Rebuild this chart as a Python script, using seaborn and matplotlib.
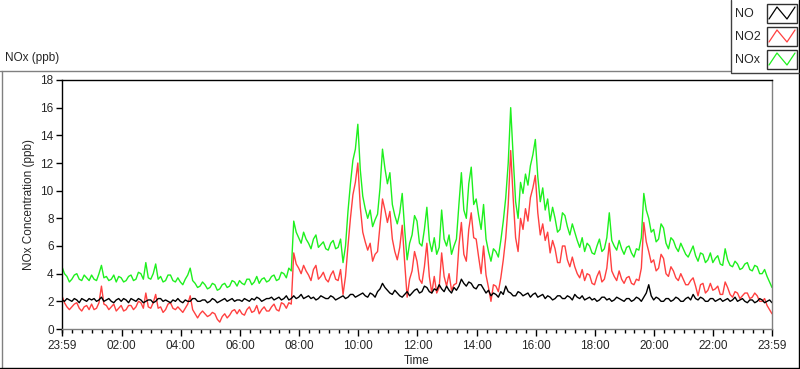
import numpy as np
import pandas as pd
import matplotlib
matplotlib.use("Agg")
import matplotlib.pyplot as plt
import seaborn as sns
from matplotlib.lines import Line2D
from matplotlib.patches import Rectangle
from matplotlib.ticker import FixedLocator

# ---------------- data (5-minute samples from 23:59 to 23:59, one row per hour) ----------------
minutes = list(range(0, 1441, 5))

nox = [4.5, 4.0, 3.8, 3.4, 3.6, 3.9, 4.0, 3.6, 3.5, 3.9, 3.7, 3.5,
       3.9, 3.6, 3.5, 4.0, 4.6, 3.7, 3.8, 3.5, 3.6, 3.9, 3.4, 3.8,
       3.7, 3.4, 3.5, 3.8, 3.9, 3.5, 3.6, 4.1, 4.0, 3.6, 4.8, 3.7,
       3.6, 4.0, 4.7, 3.6, 3.8, 3.4, 3.5, 3.9, 3.9, 3.5, 3.4, 3.7,
       3.4, 3.2, 3.6, 3.9, 4.4, 3.5, 3.3, 3.0, 3.1, 3.4, 3.2, 2.9,
       3.0, 3.3, 3.2, 2.8, 2.9, 3.2, 3.3, 3.0, 3.1, 3.5, 3.4, 3.1,
       3.5, 3.3, 3.2, 3.6, 3.6, 3.2, 3.4, 3.8, 3.3, 3.6, 3.7, 3.4,
       3.5, 3.8, 3.9, 3.5, 3.6, 4.1, 4.0, 3.7, 4.4, 4.2, 7.8, 7.0,
       6.6, 6.2, 7.0, 6.5, 6.2, 5.8, 6.5, 6.8, 5.9, 6.1, 6.3, 5.8,
       5.7, 6.2, 6.4, 5.8, 5.9, 6.5, 4.8, 6.0, 8.5, 10.5, 12.2, 13.0,
       14.8, 11.5, 9.6, 8.7, 8.0, 8.6, 7.4, 7.9, 8.3, 10.2, 13.0, 11.6,
       10.5, 11.3, 9.0, 8.2, 7.6, 8.4, 9.8, 7.2, 5.0, 6.2, 6.8, 8.2,
       7.8, 6.2, 6.0, 7.2, 8.8, 6.4, 5.6, 6.6, 5.4, 5.9, 8.6, 6.5,
       6.0, 6.8, 5.4, 6.0, 6.5, 9.0, 11.3, 8.6, 8.0, 10.5, 11.7, 9.0,
       9.4, 8.2, 7.2, 9.0, 6.5, 5.6, 4.9, 5.8, 5.6, 5.2, 6.4, 7.8,
       9.5, 12.0, 16.0, 12.5, 9.2, 8.0, 10.6, 9.8, 11.2, 10.4, 11.8, 12.6,
       13.7, 11.0, 9.2, 10.2, 8.6, 9.4, 7.8, 8.8, 8.0, 7.0, 7.2, 8.4,
       8.2, 7.4, 6.8, 7.6, 7.0, 6.4, 5.9, 6.6, 5.6, 6.2, 6.0, 5.5,
       5.4, 6.0, 6.5, 5.6, 5.8, 6.6, 8.4, 6.4, 6.0, 5.7, 6.4, 5.8,
       5.4, 5.9, 6.0, 5.5, 5.2, 5.8, 5.7, 6.6, 9.8, 8.6, 8.0, 7.0,
       7.2, 6.3, 6.5, 7.6, 7.3, 6.2, 5.8, 6.6, 6.4, 5.9, 5.6, 6.2,
       5.8, 5.4, 5.2, 5.6, 6.0, 5.3, 4.9, 5.5, 5.4, 4.8, 5.0, 5.5,
       4.8, 5.1, 5.3, 4.7, 4.6, 5.8, 5.0, 4.6, 4.5, 4.9, 4.7, 4.3,
       4.4, 4.7, 4.8, 4.3, 4.2, 4.6, 4.5, 4.0, 4.0, 4.3, 3.8, 3.4,
       3.0]

no2 = [2.4, 1.9, 1.6, 1.4, 1.6, 1.8, 1.9, 1.5, 1.3, 1.6, 1.7, 1.4,
       1.8, 1.4, 1.5, 1.9, 3.1, 1.8, 1.7, 1.4, 1.6, 1.8, 1.3, 1.5,
       1.7, 1.3, 1.4, 1.7, 1.7, 1.4, 1.6, 2.0, 1.9, 1.5, 2.6, 1.6,
       1.5, 1.9, 2.5, 1.5, 1.6, 1.2, 1.4, 1.8, 1.9, 1.5, 1.4, 1.6,
       1.4, 1.2, 1.5, 1.8, 2.4, 1.4, 1.1, 0.8, 1.1, 1.3, 1.1, 0.9,
       1.0, 1.2, 1.1, 0.7, 0.5, 0.9, 1.1, 0.8, 1.0, 1.3, 1.4, 1.1,
       1.4, 1.1, 1.0, 1.4, 1.6, 1.2, 1.3, 1.7, 1.1, 1.4, 1.6, 1.3,
       1.3, 1.6, 1.8, 1.4, 1.3, 1.9, 1.8, 1.5, 1.9, 1.8, 5.5, 4.7,
       4.4, 4.0, 4.6, 4.2, 3.9, 3.5, 4.3, 4.6, 3.6, 3.8, 4.1, 3.6,
       3.4, 3.9, 4.2, 3.6, 3.5, 4.3, 2.5, 3.8, 6.0, 8.0, 9.7, 10.6,
       12.0, 8.8, 7.0, 6.3, 5.7, 6.2, 4.9, 5.4, 5.6, 7.5, 9.4, 8.6,
       7.7, 8.5, 6.5, 5.6, 5.0, 5.9, 7.5, 4.8, 2.3, 3.6, 4.2, 5.6,
       4.9, 3.6, 3.3, 4.5, 6.2, 3.8, 2.6, 3.8, 2.6, 3.0, 5.5, 3.8,
       3.1, 4.0, 2.8, 3.2, 3.3, 6.0, 7.7, 5.4, 4.9, 7.2, 8.4, 6.6,
       6.5, 5.2, 4.0, 6.0, 3.9, 3.0, 2.0, 3.2, 3.1, 2.7, 3.7, 5.0,
       6.6, 9.0, 12.9, 9.5, 6.6, 5.6, 8.0, 7.2, 8.7, 7.8, 9.5, 10.2,
       11.1, 8.4, 6.8, 7.6, 6.4, 7.0, 5.5, 6.4, 5.8, 4.8, 4.8, 6.0,
       6.0, 5.0, 4.5, 5.2, 4.5, 4.0, 3.7, 4.3, 3.5, 4.0, 3.9, 3.3,
       3.2, 3.8, 4.2, 3.4, 3.6, 4.4, 6.2, 4.2, 3.8, 3.5, 4.2, 3.6,
       3.3, 3.7, 3.8, 3.3, 3.2, 3.6, 3.5, 4.4, 7.7, 6.3, 5.6, 4.8,
       5.0, 4.2, 4.4, 5.4, 5.1, 4.0, 3.8, 4.5, 4.2, 3.7, 3.5, 4.0,
       3.6, 3.2, 3.2, 3.5, 3.7, 3.1, 2.4, 3.2, 3.3, 2.6, 2.8, 3.3,
       2.8, 2.9, 3.1, 2.5, 2.5, 3.4, 3.0, 2.5, 2.3, 2.7, 2.6, 2.2,
       2.4, 2.6, 2.6, 2.2, 2.3, 2.6, 2.4, 2.0, 2.0, 2.2, 1.7, 1.4,
       1.1]

no = [2.1, 2.0, 2.2, 2.1, 2.0, 2.2, 2.1, 1.9, 2.2, 2.1, 2.0, 2.2,
      2.1, 2.2, 2.0, 2.1, 2.3, 2.0, 2.1, 2.2, 2.0, 1.9, 2.1, 2.2,
      2.0, 2.2, 2.1, 1.9, 2.2, 2.1, 2.0, 2.2, 2.1, 1.9, 2.0, 2.1,
      2.1, 1.9, 2.0, 2.2, 2.2, 2.0, 2.1, 2.0, 1.9, 2.1, 2.0, 2.2,
      2.0, 1.9, 2.1, 2.0, 2.0, 2.2, 2.2, 2.0, 2.0, 2.1, 2.1, 1.9,
      2.0, 2.2, 2.1, 1.9, 2.0, 2.1, 2.2, 2.0, 2.1, 2.2, 2.0, 2.1,
      2.1, 2.0, 2.2, 2.1, 2.0, 2.2, 2.1, 2.3, 2.2, 2.0, 2.1, 2.2,
      2.2, 2.3, 2.1, 2.2, 2.3, 2.1, 2.2, 2.4, 2.1, 2.2, 2.4, 2.2,
      2.3, 2.5, 2.2, 2.3, 2.4, 2.2, 2.3, 2.1, 2.2, 2.4, 2.3, 2.2,
      2.2, 2.4, 2.3, 2.1, 2.2, 2.3, 2.4, 2.2, 2.3, 2.5, 2.5, 2.3,
      2.4, 2.5, 2.6, 2.4, 2.3, 2.6, 2.5, 2.3, 2.7, 2.9, 3.3, 3.0,
      2.8, 2.6, 2.5, 2.8, 2.6, 2.4, 2.3, 2.5, 2.7, 2.4, 2.6, 2.8,
      2.9, 2.6, 2.7, 3.1, 3.0, 2.7, 2.6, 2.9, 2.8, 3.2, 2.9, 2.7,
      3.1, 2.8, 2.6, 3.0, 2.8, 3.1, 3.6, 3.3, 3.1, 3.4, 3.3, 3.0,
      2.9, 3.2, 3.2, 2.9, 2.6, 2.8, 2.4, 2.6, 2.5, 2.3, 2.7, 2.5,
      3.1, 2.7, 2.6, 2.4, 2.4, 2.7, 2.6, 2.4, 2.5, 2.6, 2.3, 2.5,
      2.6, 2.3, 2.4, 2.5, 2.2, 2.4, 2.3, 2.1, 2.2, 2.4, 2.4, 2.2,
      2.2, 2.4, 2.3, 2.1, 2.5, 2.3, 2.2, 2.4, 2.1, 2.2, 2.3, 2.1,
      2.2, 2.0, 2.1, 2.3, 2.3, 2.1, 2.2, 2.0, 2.1, 2.3, 2.2, 2.1,
      2.0, 2.2, 2.2, 2.0, 2.1, 2.3, 2.2, 2.0, 2.3, 2.6, 3.2, 2.4,
      2.1, 2.3, 2.2, 2.0, 2.0, 2.2, 2.2, 2.0, 2.1, 2.3, 2.2, 2.0,
      2.0, 2.2, 2.3, 2.1, 2.5, 2.2, 2.1, 2.3, 2.2, 2.0, 2.0, 2.2,
      2.2, 2.0, 2.1, 2.2, 2.0, 2.1, 2.2, 2.0, 2.1, 2.3, 2.0, 2.1,
      2.2, 2.0, 1.9, 2.1, 2.1, 1.9, 2.0, 2.2, 2.1, 1.9, 2.0, 2.1,
      1.9]

series_names = ["NO", "NO2", "NOx"]
tick_minutes = [0, 121, 241, 361, 481, 601, 721, 841, 961, 1081, 1201, 1321, 1440]
tick_labels = ["23:59", "02:00", "04:00", "06:00", "08:00", "10:00", "12:00",
               "14:00", "16:00", "18:00", "20:00", "22:00", "23:59"]
y_ticks = [0, 2, 4, 6, 8, 10, 12, 14, 16, 18]

colors = {"NO": "#000000", "NO2": "#FF4040", "NOx": "#1EF01E"}

df = pd.concat([
    pd.DataFrame({"minute": minutes, "value": nox, "series": "NOx"}),
    pd.DataFrame({"minute": minutes, "value": no2, "series": "NO2"}),
    pd.DataFrame({"minute": minutes, "value": no, "series": "NO"}),
], ignore_index=True)

# ---------------- style ----------------
sns.set_style("white")
plt.rcParams["font.family"] = ["Liberation Sans", "DejaVu Sans"]
FS = 8.5

W, H = 800, 369
fig = plt.figure(figsize=(W / 100, H / 100), dpi=100, facecolor="white")


def fx(x):
    return x / W


def fy(y):
    return 1 - y / H


L, R, T, B = 62, 772, 80, 329
ax = fig.add_axes([fx(L), fy(B), fx(R) - fx(L), fy(T) - fy(B)])
ax.set_facecolor("white")

sns.lineplot(data=df, x="minute", y="value", hue="series",
             hue_order=["NOx", "NO2", "NO"], palette=colors,
             linewidth=1.0, legend=False, ax=ax, estimator=None)

ax.set_xlim(0, 1440)
ax.set_ylim(0, 18)
ax.set_xticks(tick_minutes)
ax.set_xticklabels(tick_labels, fontsize=FS)
minor = [m for m in range(1, 1440, 20) if m not in tick_minutes]
ax.xaxis.set_minor_locator(FixedLocator(minor))
ax.set_yticks(y_ticks)
ax.set_yticklabels([str(v) for v in y_ticks], fontsize=FS)
ax.tick_params(axis="x", which="major", direction="out", length=5, width=1,
               color="black", bottom=True, pad=3)
ax.tick_params(axis="x", which="minor", direction="out", length=3, width=1,
               color="black", bottom=True)
ax.tick_params(axis="y", which="major", direction="out", length=4, width=1,
               color="black", left=True, pad=2)
ax.set_xlabel("Time", fontsize=FS, labelpad=2)
ax.set_ylabel("NOx Concentration (ppb)", fontsize=FS, labelpad=4)
for side in ["left", "top"]:
    ax.spines[side].set_color("black")
    ax.spines[side].set_linewidth(1.0)
for side in ["right", "bottom"]:
    ax.spines[side].set_color("#808080")
    ax.spines[side].set_linewidth(1.0)

# ---------------- outer frame ----------------
def hline(y, x0, x1, c, lw=1.0):
    fig.add_artist(Line2D([fx(x0), fx(x1)], [fy(y), fy(y)], color=c, lw=lw,
                          transform=fig.transFigure))


def vline(x, y0, y1, c, lw=1.0):
    fig.add_artist(Line2D([fx(x), fx(x)], [fy(y0), fy(y1)], color=c, lw=lw,
                          transform=fig.transFigure))


hline(70.5, 0, 730, "#808080")
vline(1.5, 70.5, 367, "#808080")
hline(367.5, 0, 798.5, "#000000")
vline(798.5, 0, 367.5, "#000000")
# legend panel
vline(730.5, 0, 72, "#404040")
hline(72.5, 730.5, 798.5, "#404040")

fig.text(fx(5), fy(58), "NOx (ppb)", fontsize=FS, ha="left", va="center")

# legend entries
legend_rows = [("NO", 4), ("NO2", 27), ("NOx", 50)]
for name, top in legend_rows:
    fig.text(fx(735), fy(top + 10), name, fontsize=FS + 0.5, ha="left", va="center")
    fig.add_artist(Rectangle((fx(767), fy(top + 19)), fx(797) - fx(767),
                             fy(top) - fy(top + 19), facecolor="white",
                             edgecolor="#303030", lw=1.0,
                             transform=fig.transFigure))
    xs = [769, 777, 787, 795]
    ys = [top + 15, top + 3, top + 15, top + 3]
    fig.add_artist(Line2D([fx(v) for v in xs], [fy(v) for v in ys],
                          color=colors[name], lw=0.9, transform=fig.transFigure))

fig.savefig("out.png", dpi=100, facecolor="white")
